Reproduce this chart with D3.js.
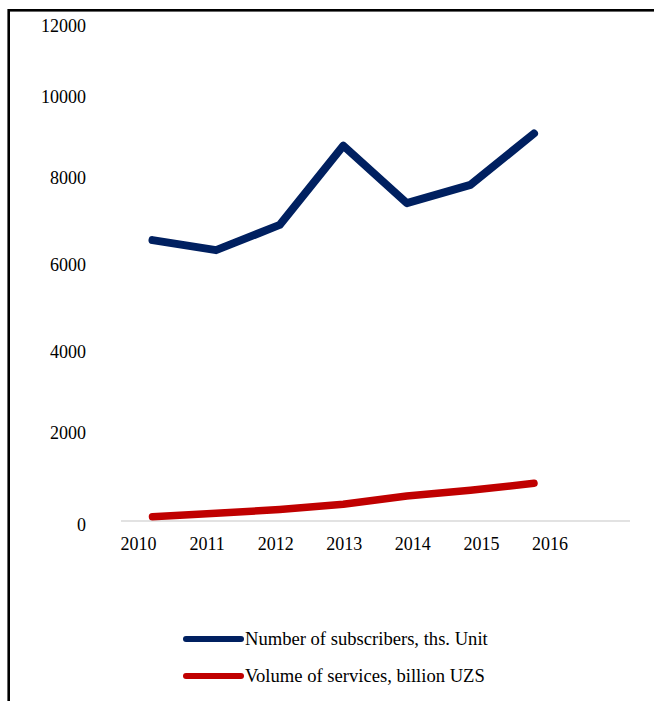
<!DOCTYPE html>
<html>
<head>
<meta charset="utf-8">
<script src="https://cdn.jsdelivr.net/npm/d3@7"></script>
<style>
  html, body { margin: 0; padding: 0; background: #fff; }
  svg { display: block; }
  text { font-family: "Liberation Serif", "Times New Roman", serif; fill: #000; }
</style>
</head>
<body>
<svg id="chart" width="654" height="701"></svg>
<script>
const years = ["2010", "2011", "2012", "2013", "2014", "2015", "2016"];
const subscribers = [6480, 6250, 6830, 8700, 7330, 7750, 9000];
const volume = [93, 167, 250, 363, 543, 667, 820];
const yTicks = [0, 2000, 4000, 6000, 8000, 10000, 12000];
const seriesNames = ["Number of subscribers, ths. Unit", "Volume of services, billion UZS"];
const seriesColors = ["#002060", "#C00000"];

const svg = d3.select("#chart");

// outer frame (extends past the right and bottom edges)
svg.append("rect")
  .attr("x", 8.7).attr("y", 10.3)
  .attr("width", 700).attr("height", 760)
  .attr("fill", "none").attr("stroke", "#000").attr("stroke-width", 2.6);

// y scale (tick positions as in the picture)
const y = d3.scaleLinear()
  .domain(yTicks)
  .range([521, 429, 347.7, 261, 174, 93, 22]);

// x scales: one for the line points, one for the category labels
const xLine = d3.scalePoint().domain(years).range([152.5, 534]);
const xLabel = d3.scalePoint().domain(years).range([138.5, 550]);

// horizontal axis line
svg.append("line")
  .attr("x1", 121).attr("x2", 630)
  .attr("y1", y(0)).attr("y2", y(0))
  .attr("stroke", "#d9d9d9").attr("stroke-width", 1.5);

// y tick labels
svg.append("g").selectAll("text")
  .data(yTicks).join("text")
  .attr("x", 86)
  .attr("y", d => y(d) + 4)
  .attr("dy", "0.35em")
  .attr("text-anchor", "end")
  .attr("font-size", 18)
  .text(d => d);

// x tick labels
svg.append("g").selectAll("text")
  .data(years).join("text")
  .attr("x", d => xLabel(d))
  .attr("y", 550)
  .attr("text-anchor", "middle")
  .attr("font-size", 18)
  .text(d => d);

const line = d3.line()
  .x((d, i) => xLine(years[i]))
  .y(d => y(d));

[subscribers, volume].forEach((s, k) => {
  svg.append("path")
    .datum(s)
    .attr("d", line)
    .attr("fill", "none")
    .attr("stroke", seriesColors[k])
    .attr("stroke-width", k === 0 ? 8 : 7.5)
    .attr("stroke-linecap", "round")
    .attr("stroke-linejoin", "round");
});

// legend
const legendY = [639, 676];
const lg = svg.append("g");
seriesNames.forEach((name, k) => {
  lg.append("line")
    .attr("x1", 186).attr("x2", 241)
    .attr("y1", legendY[k]).attr("y2", legendY[k])
    .attr("stroke", seriesColors[k])
    .attr("stroke-width", 6)
    .attr("stroke-linecap", "round");
  lg.append("text")
    .attr("x", 245)
    .attr("y", legendY[k] + 6)
    .attr("font-size", 18.6)
    .text(name);
});
</script>
</body>
</html>
